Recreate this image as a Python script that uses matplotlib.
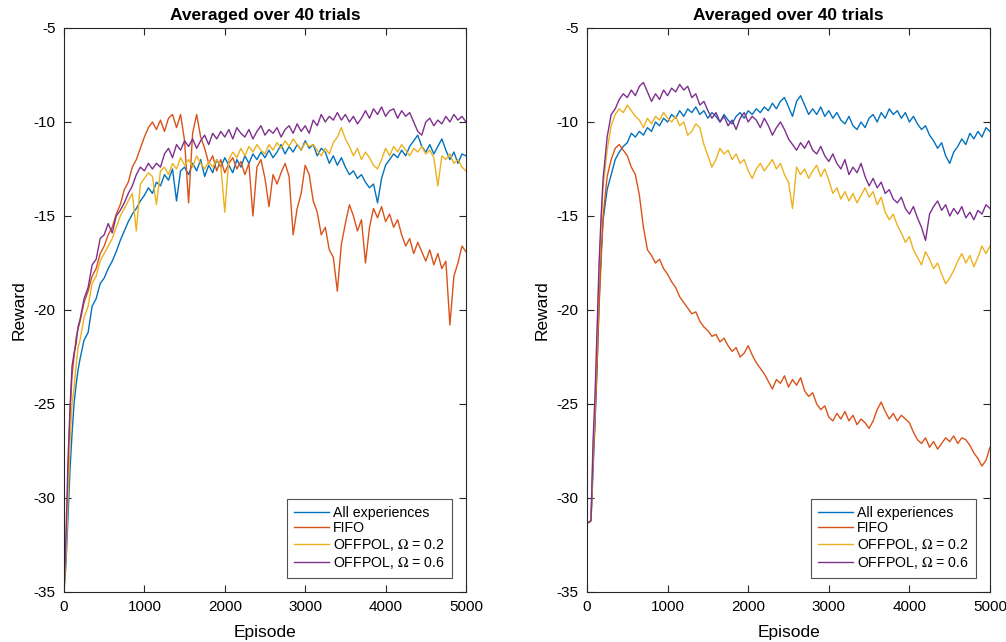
import matplotlib
matplotlib.use('Agg')
import matplotlib.pyplot as plt

plt.rcParams['font.family'] = ['Liberation Sans', 'DejaVu Sans']
plt.rcParams['axes.unicode_minus'] = False
plt.rcParams['mathtext.fontset'] = 'stix'

# episode grid shared by all series (denser at the start)
episodes = [0, 25, 50, 75, 100, 125, 150, 175, 200] + list(range(250, 5001, 50))

labels = ['All experiences', 'FIFO', r'OFFPOL, $\Omega$ = 0.2', r'OFFPOL, $\Omega$ = 0.6']
colors = ['#0072BD', '#D95319', '#EDB120', '#7E2F8E']

# ---- left panel ----
left_all = [-35, -33.5, -31, -28.5, -26.6, -25.0, -24.0, -23.2, -22.6,
            -21.6, -21.2, -19.8, -19.4, -18.6, -18.3, -17.8, -17.4, -16.9, -16.3,
            -15.8, -15.3, -14.9, -14.6, -14.2, -13.9, -13.5, -13.8, -13.2, -13.4,
            -12.8, -13.1, -12.5, -14.2, -12.6, -12.4, -12.8, -12.2, -12.6, -12.0,
            -12.9, -12.3, -12.7, -12.0, -12.4, -11.9, -12.3, -12.7, -12.0, -12.4,
            -11.8, -12.2, -11.7, -12.0, -11.6, -11.9, -11.5, -11.9, -11.6, -11.2,
            -11.7, -11.3, -11.6, -11.2, -11.5, -11.0, -11.4, -11.2, -11.8, -11.4,
            -11.6, -12.2, -11.8, -12.3, -11.9, -12.4, -12.8, -12.6, -13.0, -12.8,
            -13.2, -13.5, -13.3, -14.3, -13.0, -12.3, -12.0, -11.7, -11.9, -11.5,
            -11.8, -11.3, -11.0, -10.7, -11.3, -11.6, -11.2, -11.7, -11.3, -10.9,
            -11.5, -12.0, -11.6, -12.2, -11.7, -11.8]
left_fifo = [-35, -32.5, -29, -25.5, -23.5, -22.5, -21.5, -21.0, -20.6,
             -19.6, -19.0, -18.2, -17.8, -17.0, -16.6, -16.0, -15.6, -14.9, -14.4,
             -13.6, -13.2, -12.4, -12.0, -11.4, -10.8, -10.3, -10.0, -10.4, -9.9,
             -10.5, -9.8, -9.6, -10.3, -9.6, -11.0, -14.3, -10.6, -9.6, -10.8,
             -11.4, -12.2, -11.8, -12.6, -12.0, -12.7, -12.2, -11.9, -12.5, -12.1,
             -12.8, -12.2, -15.0, -12.4, -12.0, -13.0, -14.5, -12.8, -13.3, -12.7,
             -12.2, -12.9, -16.0, -14.6, -13.8, -12.3, -12.8, -14.2, -14.8, -16.0,
             -15.6, -16.8, -17.2, -19.0, -16.5, -15.4, -14.4, -15.0, -15.8, -15.2,
             -17.5, -15.6, -14.6, -15.1, -14.5, -15.3, -14.9, -15.6, -15.2, -16.0,
             -16.6, -16.2, -17.0, -16.4, -16.9, -17.4, -16.8, -17.6, -17.0, -17.8,
             -17.4, -20.8, -18.2, -17.5, -16.6, -16.9]
left_off02 = [-35, -33, -30, -27, -25.0, -24.2, -23.0, -22.0, -21.6,
              -20.4, -19.8, -18.6, -18.2, -17.4, -17.0, -16.6, -16.2, -15.6, -15.0,
              -14.6, -14.2, -13.8, -15.8, -13.3, -13.0, -12.7, -12.9, -14.4, -12.6,
              -12.4, -12.8, -12.2, -12.5, -11.9, -12.3, -12.0, -12.4, -11.8, -12.2,
              -12.5, -12.1, -12.4, -12.0, -12.3, -14.8, -12.0, -11.6, -11.9, -11.4,
              -11.8, -11.3, -11.6, -11.2, -11.5, -11.7, -11.2, -11.5, -11.1, -11.4,
              -11.0, -11.3, -10.9, -11.2, -11.5, -11.1, -11.3, -11.2, -11.5, -11.8,
              -11.4, -11.7, -11.1, -10.8, -10.3, -10.9, -11.3, -11.8, -11.4, -12.0,
              -11.6, -11.9, -12.3, -12.5, -12.0, -11.4, -11.8, -11.3, -11.6, -11.2,
              -11.5, -11.8, -11.4, -11.6, -11.3, -11.7, -11.5, -11.9, -13.4, -11.8,
              -12.0, -11.7, -12.2, -12.0, -12.4, -12.6]
left_off06 = [-35, -32, -28, -25.2, -23.0, -22.3, -21.8, -20.9, -20.5,
              -19.4, -18.8, -17.6, -17.3, -16.2, -16.0, -15.4, -15.9, -15.0, -14.7,
              -14.3, -13.8, -13.4, -12.8, -12.4, -12.6, -12.2, -12.5, -12.2, -12.4,
              -11.7, -11.4, -11.9, -11.2, -11.5, -11.0, -11.3, -10.9, -11.4, -11.0,
              -10.7, -11.2, -10.6, -10.9, -10.5, -10.8, -10.4, -10.9, -10.3, -10.6,
              -10.8, -10.4, -10.9, -10.5, -10.2, -10.7, -10.4, -10.6, -10.3, -10.8,
              -10.4, -10.2, -10.6, -10.1, -10.5, -10.2, -10.6, -9.9, -10.2, -9.6,
              -10.0, -9.7, -9.9, -9.5, -9.9, -9.6, -10.0, -9.7, -10.1, -9.8,
              -9.4, -9.8, -9.3, -9.6, -9.2, -9.7, -9.4, -9.3, -9.8, -9.4,
              -9.7, -9.5, -10.0, -10.5, -10.7, -10.0, -9.8, -10.2, -9.9, -10.1,
              -9.7, -10.0, -9.6, -9.9, -9.7, -10.0]

# ---- right panel ----
right_all = [-31.3, -31.3, -31.2, -28.5, -26.0, -23.0, -19.5, -17.0, -15.2,
             -13.6, -12.8, -12.0, -11.6, -11.3, -11.1, -10.6, -10.8, -10.5, -10.7,
             -10.3, -10.5, -10.0, -10.2, -9.8, -10.0, -9.6, -9.8, -9.4, -9.7,
             -9.3, -9.5, -9.2, -9.6, -9.4, -9.8, -9.5, -9.7, -10.0, -9.6,
             -9.9, -10.1, -9.7, -9.5, -9.8, -9.4, -9.6, -9.3, -9.5, -9.2,
             -9.4, -9.0, -9.3, -8.9, -8.7, -9.2, -9.7, -8.9, -8.6, -9.1,
             -9.6, -9.3, -9.6, -9.2, -9.7, -9.4, -9.8, -9.5, -9.9, -10.1,
             -9.7, -10.2, -10.4, -10.0, -10.3, -9.8, -9.6, -10.0, -9.5, -9.8,
             -9.3, -9.6, -9.4, -9.8, -9.5, -10.0, -9.7, -10.1, -10.4, -10.2,
             -10.7, -11.0, -11.4, -11.1, -11.8, -12.2, -11.6, -11.3, -10.9, -11.2,
             -10.6, -10.9, -10.5, -10.8, -10.3, -10.5]
right_fifo = [-31.3, -31.3, -31.2, -28.0, -25.8, -23.0, -19.8, -17.4, -15.0,
              -12.9, -12.0, -11.4, -11.2, -11.5, -11.8, -12.4, -12.8, -13.9, -15.6,
              -16.8, -17.1, -17.5, -17.3, -17.8, -18.1, -18.5, -18.8, -19.3, -19.6,
              -19.9, -20.2, -20.1, -20.6, -20.9, -21.1, -21.4, -21.3, -21.7, -21.5,
              -21.9, -22.2, -22.0, -22.5, -22.3, -21.9, -22.4, -22.8, -23.1, -23.4,
              -23.8, -24.2, -23.7, -23.9, -23.5, -24.1, -23.7, -24.0, -23.6, -24.3,
              -24.6, -24.4, -25.0, -25.3, -25.1, -25.7, -25.9, -25.5, -25.8, -25.4,
              -25.9, -25.6, -26.1, -25.8, -26.0, -26.3, -25.9, -25.3, -24.9, -25.4,
              -25.8, -25.5, -25.9, -25.6, -25.8, -26.0, -26.5, -26.9, -27.1, -26.8,
              -27.3, -27.0, -27.4, -27.1, -26.8, -27.0, -26.7, -27.1, -26.8, -26.9,
              -27.2, -27.6, -27.9, -28.3, -28.0, -27.3]
right_off02 = [-31.3, -31.3, -31.2, -27.5, -25.0, -21.5, -18.0, -15.5, -13.4,
               -11.5, -10.2, -9.6, -9.3, -9.5, -9.1, -9.4, -9.7, -9.9, -10.3,
               -9.8, -10.1, -9.7, -9.9, -9.5, -9.8, -10.0, -9.7, -10.2, -10.0,
               -10.7, -10.5, -10.1, -10.3, -11.2, -11.8, -12.4, -12.0, -11.4, -11.7,
               -11.5, -12.0, -11.7, -12.2, -12.0, -12.6, -13.0, -12.5, -12.2, -12.6,
               -12.3, -12.0, -12.5, -12.2, -12.8, -13.2, -14.6, -12.4, -12.8, -12.5,
               -13.0, -12.6, -12.3, -12.9, -12.5, -13.1, -13.8, -13.5, -14.1, -13.7,
               -14.2, -13.8, -14.3, -13.9, -13.5, -14.0, -13.7, -14.4, -14.0, -14.8,
               -15.2, -14.9, -15.5, -15.9, -16.4, -16.1, -16.8, -17.2, -17.6, -16.9,
               -17.3, -17.8, -17.5, -18.1, -18.6, -18.3, -17.9, -17.4, -17.0, -17.5,
               -17.1, -17.7, -17.2, -16.6, -17.0, -16.6]
right_off06 = [-31.3, -31.3, -31.2, -27.0, -24.5, -21.0, -17.5, -15.0, -13.0,
               -10.8, -9.6, -9.3, -8.8, -8.5, -8.7, -8.3, -8.6, -8.1, -7.9,
               -8.4, -8.9, -8.5, -8.8, -8.3, -8.6, -8.2, -8.4, -8.0, -8.3,
               -8.1, -8.7, -8.5, -9.1, -8.9, -9.4, -9.8, -9.5, -10.0, -9.7,
               -10.2, -9.9, -10.4, -9.8, -9.5, -10.0, -9.7, -9.9, -10.3, -9.8,
               -10.2, -10.7, -10.3, -10.0, -10.4, -10.9, -11.2, -11.5, -11.1, -11.4,
               -11.0, -11.5, -11.7, -11.3, -11.8, -12.1, -11.7, -12.2, -12.5, -12.0,
               -12.8, -12.4, -12.7, -12.2, -12.9, -13.4, -13.0, -13.5, -13.2, -13.8,
               -13.6, -14.1, -14.3, -14.0, -14.6, -14.9, -14.5, -15.1, -15.6, -16.3,
               -14.9, -14.5, -14.2, -14.7, -14.4, -15.0, -14.6, -14.9, -14.5, -15.1,
               -14.8, -15.2, -14.7, -14.9, -14.4, -14.6]

panels = [
    [left_all, left_fifo, left_off02, left_off06],
    [right_all, right_fifo, right_off02, right_off06],
]

fig = plt.figure(figsize=(10.06, 6.42), dpi=100)
axes = [fig.add_axes([0.0636, 0.0779, 0.3996, 0.8785]),
        fig.add_axes([0.5835, 0.0779, 0.4006, 0.8785])]

frame = '#262626'
for ax, series in zip(axes, panels):
    for ys, c, lab in zip(series, colors, labels):
        ax.plot(episodes, ys, color=c, lw=1.0, label=lab)
    ax.set_xlim(0, 5000)
    ax.set_ylim(-35, -5)
    ax.set_xticks(range(0, 5001, 1000))
    ax.set_yticks(range(-35, -4, 5))
    ax.tick_params(direction='in', top=True, right=True, labelsize=11,
                   length=5, width=0.8, color=frame, labelcolor='black')
    ax.tick_params(axis='x', pad=5.5)
    ax.tick_params(axis='y', pad=6)
    for sp in ax.spines.values():
        sp.set_color(frame)
        sp.set_linewidth(0.8)
    ax.set_title('Averaged over 40 trials', fontsize=12.5, fontweight='bold', pad=6)
    ax.set_xlabel('Episode', fontsize=12.5, labelpad=8)
    ax.set_ylabel('Reward', fontsize=12.5, labelpad=5)
    leg = ax.legend(loc='lower right', fontsize=10.2, fancybox=False,
                    handlelength=2.5, handletextpad=0.25, borderpad=0.5,
                    labelspacing=0.12, borderaxespad=1.0)
    leg.get_frame().set_edgecolor(frame)
    leg.get_frame().set_linewidth(0.8)

plt.savefig('out.png', dpi=100)
plt.close()
